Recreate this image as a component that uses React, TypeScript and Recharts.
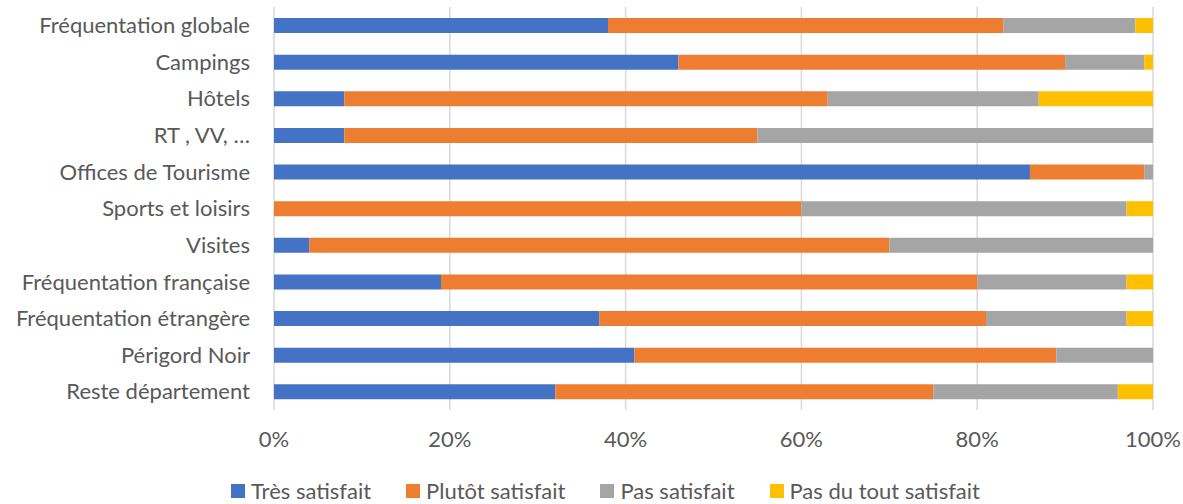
import React from 'react';
import { BarChart, Bar, XAxis, YAxis, CartesianGrid, Legend } from 'recharts';

const categories = [
  'Fréquentation globale',
  'Campings',
  'Hôtels',
  'RT , VV, …',
  'Offices de Tourisme',
  'Sports et loisirs',
  'Visites',
  'Fréquentation française',
  'Fréquentation étrangère',
  'Périgord Noir',
  'Reste département',
];

const tresSatisfait = [38, 46, 8, 8, 86, 0, 4, 19, 37, 41, 32];
const plutotSatisfait = [45, 44, 55, 47, 13, 60, 66, 61, 44, 48, 43];
const pasSatisfait = [15, 9, 24, 45, 1, 37, 30, 17, 16, 11, 21];
const pasDuToutSatisfait = [2, 1, 13, 0, 0, 3, 0, 3, 3, 0, 4];

const xTicks = [0, 20, 40, 60, 80, 100];

const seriesNames = ['Très satisfait', 'Plutôt satisfait', 'Pas satisfait', 'Pas du tout satisfait'];
const seriesKeys = ['tres', 'plutot', 'pas', 'pasDuTout'];
const seriesColors = ['#4472C4', '#ED7D31', '#A5A5A5', '#FFC000'];

const data = categories.map((name, i) => ({
  name,
  tres: tresSatisfait[i],
  plutot: plutotSatisfait[i],
  pas: pasSatisfait[i],
  pasDuTout: pasDuToutSatisfait[i],
}));

const FONT = 'Lato, "Open Sans", sans-serif';

const LegendContent = () => (
  <div style={{ display: 'flex', alignItems: 'center', fontFamily: FONT, fontSize: 22, lineHeight: '22px', color: '#595959' }}>
    {seriesNames.map((n, i) => (
      <div key={n} style={{ display: 'flex', alignItems: 'center', marginRight: i < 3 ? 35 : 0 }}>
        <div style={{ width: 14, height: 14, background: seriesColors[i], marginRight: 6 }} />
        <span>{n}</span>
      </div>
    ))}
  </div>
);

export default function App() {
  return (
    <div style={{ position: 'absolute', left: 0, top: 0, width: 1183, height: 504, background: '#fff' }}>
      <BarChart
        width={1183}
        height={504}
        data={data}
        layout="vertical"
        margin={{ top: 7, right: 30, left: 0, bottom: 54 }}
      >
        <CartesianGrid horizontal={false} stroke="#D9D9D9" strokeWidth={1.5} />
        <XAxis
          type="number"
          domain={[0, 100]}
          ticks={xTicks}
          tickFormatter={(v: number) => `${v}%`}
          axisLine={false}
          tickLine={false}
          tickSize={0}
          tickMargin={21}
          height={40}
          interval={0}
          tick={{ fill: '#595959', fontSize: 22, fontFamily: FONT }}
        />
        <YAxis
          type="category"
          dataKey="name"
          width={274}
          axisLine={false}
          tickLine={false}
          tickSize={0}
          tickMargin={24}
          interval={0}
          tick={{ fill: '#595959', fontSize: 22, fontFamily: FONT }}
        />
        <Legend
          layout="horizontal"
          verticalAlign="middle"
          align="center"
          wrapperStyle={{ left: 231, top: 480, width: 900 }}
          content={<LegendContent />}
        />
        {seriesKeys.map((k, i) => (
          <Bar
            key={k}
            dataKey={k}
            name={seriesNames[i]}
            stackId="a"
            fill={seriesColors[i]}
            barSize={15}
            isAnimationActive={false}
          />
        ))}
      </BarChart>
    </div>
  );
}
